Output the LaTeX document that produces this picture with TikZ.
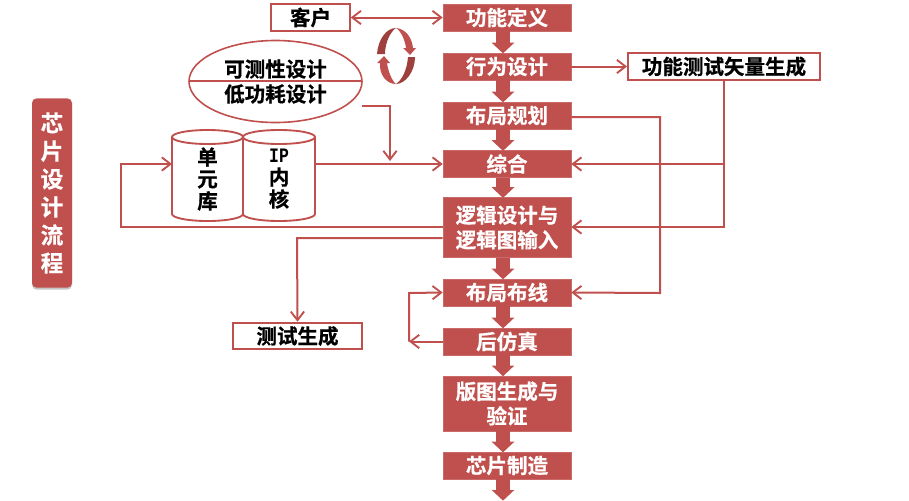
\documentclass[tikz,border=0pt]{standalone}
\usepackage{fontspec}
\usetikzlibrary{arrows.meta,calc,shadows}
\setmainfont{Noto Sans CJK SC}[BoldFont={Noto Sans CJK SC Bold},BoldFeatures={FakeBold=0.6}]
\newfontfamily\ipfont[FakeStretch=0.8,BoldFont={Liberation Mono Bold}]{Liberation Mono}
\definecolor{brick}{HTML}{C0504D}
\definecolor{brickdark}{HTML}{9E413E}
\tikzset{
  x=0.75pt,y=-0.75pt,
  every node/.style={font=\bfseries\fontsize{15.4}{18.5}\selectfont},
  mainbox/.style={fill=brick,draw=brick!85!white,line width=0.4pt,text=white,minimum width=96pt,inner sep=0pt,align=center},
  onerow/.style={minimum height=20.25pt},
  whitebox/.style={draw=brick,line width=1.4pt,fill=white,text=black,inner sep=0pt,minimum height=20pt},
  link/.style={draw=brick,line width=1.5pt,-{Straight Barb[length=6.5pt,width=10pt,line width=1.4pt]},line join=miter},
  bothlink/.style={draw=brick,line width=1.5pt,{Straight Barb[length=6.5pt,width=10pt,line width=1.4pt]}-{Straight Barb[length=6.5pt,width=10pt,line width=1.4pt]}},
  flow/.style={draw=brick,line width=10.5pt,-{Triangle[length=8pt,width=16.5pt]},shorten >=-0.5pt},
  cyl/.style={draw=brick,line width=1.4pt,fill=white},
  cyltext/.style={align=center,inner sep=0pt,font=\bfseries\fontsize{15.4}{16.5}\selectfont},
}
\begin{document}
\begin{tikzpicture}
\useasboundingbox (0,0) rectangle (909,500);
% side title
\node[fill=brick,rounded corners=3.5pt,minimum width=30pt,minimum height=142pt,text=white,align=center,inner sep=0pt,
      drop shadow={shadow xshift=0pt,shadow yshift=-1.5pt,fill=black!45,opacity=.5},
      font=\bfseries\fontsize{17}{21}\selectfont] (title) at (52,193) {芯\\片\\设\\计\\流\\程};
% main column
\node[mainbox,onerow] (f1) at (507,17.5) {功能定义};
\node[mainbox,onerow] (f2) at (507,66.5) {行为设计};
\node[mainbox,onerow] (f3) at (507,115.5) {布局规划};
\node[mainbox,onerow] (f4) at (507,164) {综合};
\node[mainbox,minimum height=45pt] (f5) at (507,227.5) {逻辑设计与\\逻辑图输入};
\node[mainbox,onerow] (f6) at (507,292.5) {布局布线};
\node[mainbox,onerow] (f7) at (507,341.5) {后仿真};
\node[mainbox,minimum height=41.5pt] (f8) at (507,403.5) {版图生成与\\验证};
\node[mainbox,onerow] (f9) at (507,465.5) {芯片制造};
\coordinate (fend) at (503,500);
\foreach \a/\b in {f1/f2,f2/f3,f3/f4,f4/f5,f5/f6,f6/f7,f7/f8,f8/f9}
  \draw[flow] ($(\a.south)+(-4,0)$) -- ($(\b.north)+(-4,0)$);
\draw[flow] ($(f9.south)+(-4,0)$) -- (fend);
% white boxes
\node[whitebox,minimum width=59pt] (cust) at (310.5,17.5) {客户};
\node[whitebox,minimum width=144pt] (vec) at (724,66.5) {功能测试矢量生成};
\node[whitebox,minimum width=97pt] (test) at (297.5,336) {测试生成};
% ellipse
\draw[draw=brick,line width=1.2pt,fill=white] (275.5,81.5) ellipse [x radius=86.5,y radius=41];
\coordinate (elleft) at (189,81);
\coordinate (elright) at (362,81);
\draw[draw=brick,line width=1.2pt] (elleft) -- (elright);
\node[inner sep=0pt] (ela) at (275.5,69) {可测性设计};
\node[inner sep=0pt] (elb) at (275.5,94) {低功耗设计};
\coordinate (elout) at (362,106);
% cylinders
\draw[cyl] (172,137) -- (172,214) arc[start angle=180,end angle=0,x radius=35.5,y radius=7] -- (243,137);
\draw[cyl] (207.5,137) ellipse [x radius=35.5,y radius=7];
\draw[cyl] (243,137) -- (243,214) arc[start angle=180,end angle=0,x radius=36,y radius=7] -- (315,137);
\draw[cyl] (279,137) ellipse [x radius=36,y radius=7];
\node[cyltext] (lib) at (207.5,179) {单\\元\\库};
\node[cyltext] (ip) at (279,179) {{\ipfont IP}\\内\\核};
\coordinate (libw) at (172,164);
\coordinate (ipe) at (315,164);
% connectors
\draw[bothlink] (cust.east) -- (f1.west);
\draw[link] (f2.east) -- (vec.west);
\coordinate (turn1) at (390,106);
\draw[link] (elout) -- (turn1) -- (390,161);
\draw[link] (ipe) -- (f4.west);
\draw[link] (f5.west |- 0,227) -- (121,227) -- (121,164) -- (libw);
\draw[link] (f5.west |- 0,238) -- (297,238) -- (test.north);
\draw[link] (f3.east |- 0,117) -- (660,117) -- (660,293) -- (f6.east);
\draw[link] (vec.south) -- (724,227) -- (f5.east |- 0,227);
\draw[link] (724,164) -- (f4.east);
\draw[link] (f7.west) -- (409,341.5);
\draw[link] (409,341.5) -- (409,293) -- (f6.west);
% cycle icon
\fill[brickdark] (377,54) .. controls (378,40) and (386,28) .. (396,28)
   .. controls (391,31) and (385,42) .. (385,54) -- cycle;
\fill[brick] (396,28) .. controls (406,29) and (412,38) .. (413,48) -- (416,48) -- (410,55) -- (403,48) -- (406,48) .. controls (405,40) and (401,31) .. (396,28) -- cycle;
\fill[brickdark] (415,57) .. controls (415,72) and (405,84) .. (396,84)
   .. controls (402,80) and (407,70) .. (408,57) -- cycle;
\fill[brick] (396,84) .. controls (386,84) and (379,74) .. (380,63) -- (377,63) -- (384,56) -- (390,63) -- (387,63) .. controls (388,71) and (392,81) .. (396,84) -- cycle;
\end{tikzpicture}
\end{document}
